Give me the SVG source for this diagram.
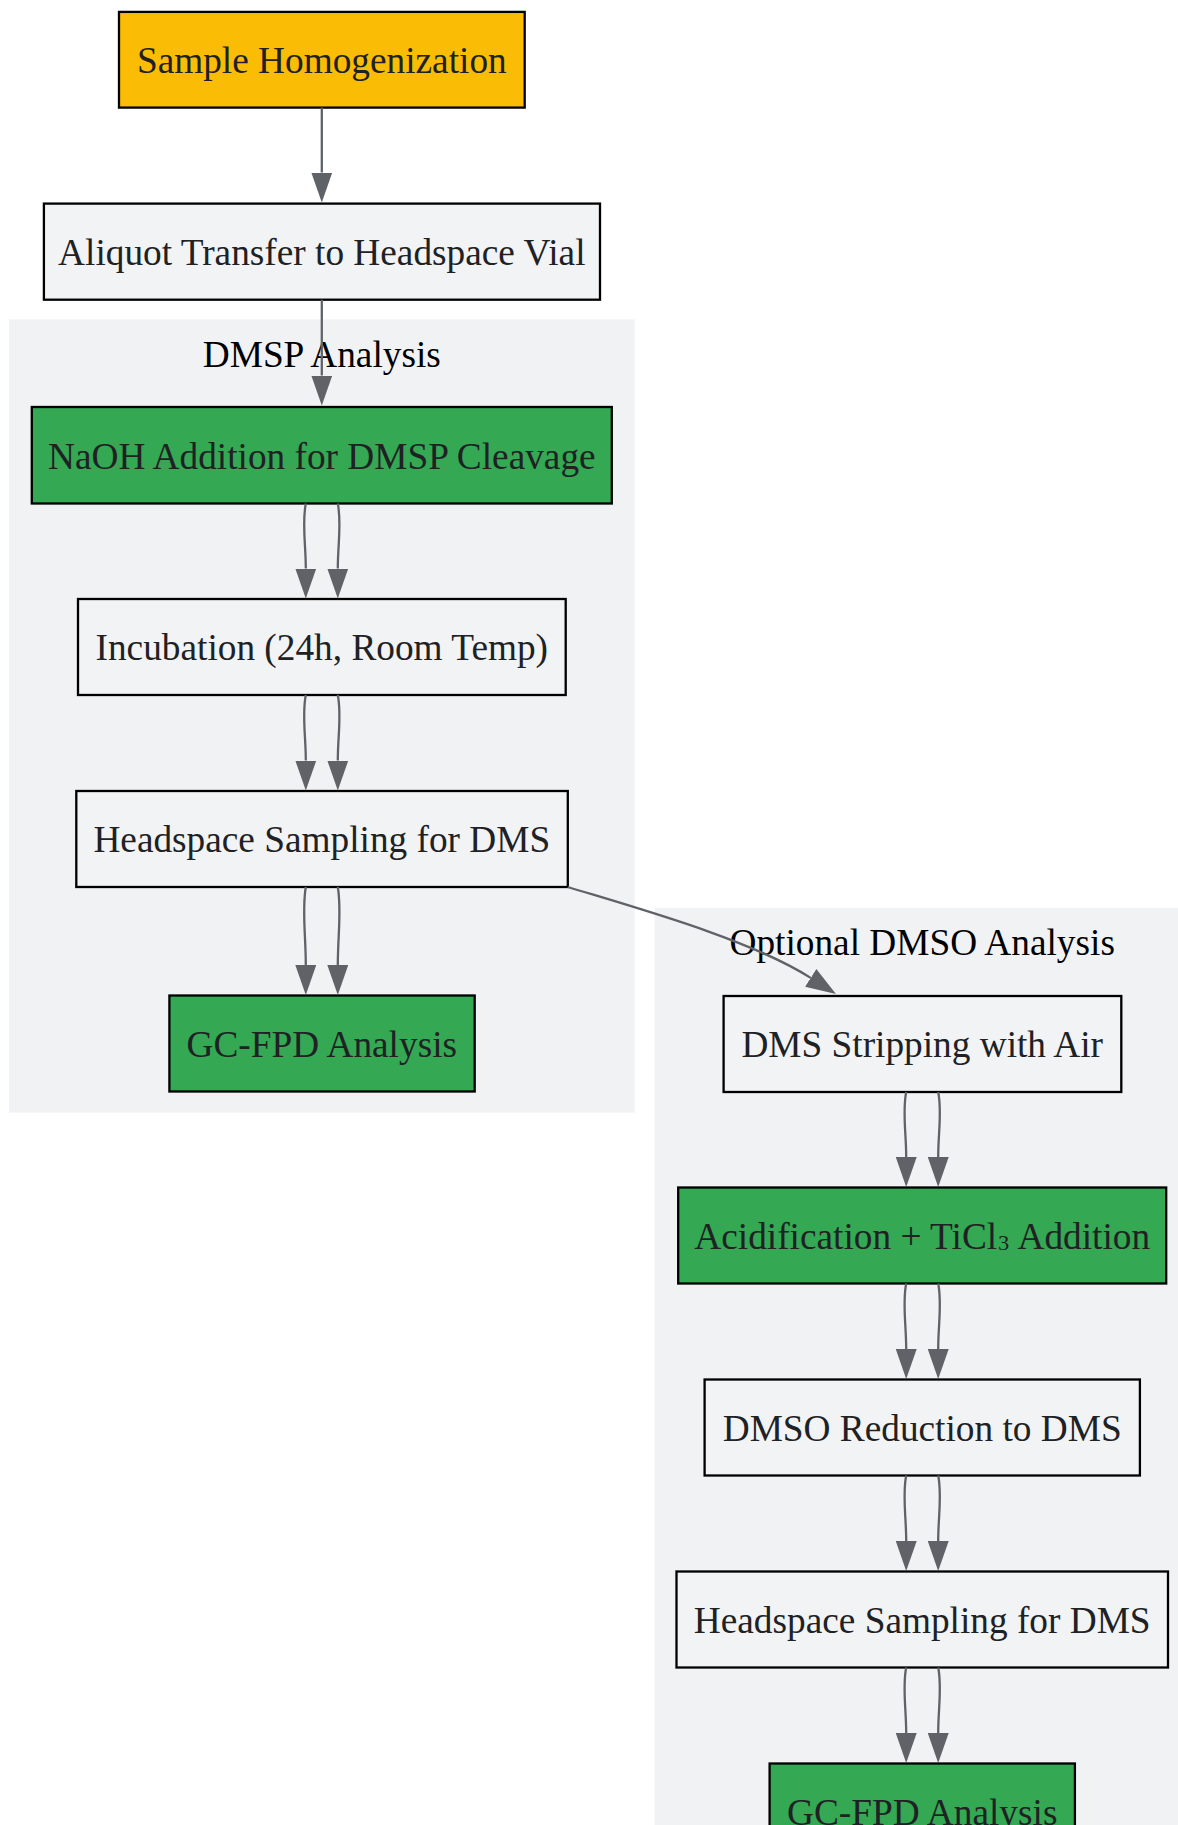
<svg xmlns="http://www.w3.org/2000/svg" width="1178" height="1825" viewBox="0 0 1178 1825">
<defs>
<marker id="arrow" markerUnits="userSpaceOnUse" markerWidth="30" markerHeight="21" viewBox="0 0 30 21" refX="0" refY="10.5" orient="auto">
<path d="M0 0 L30 10.5 L0 21 z" fill="#5F6368"/>
</marker>
</defs>
<style>
.node rect{stroke:#000;stroke-width:2.3}
.plain rect{fill:#F1F3F4}
.green rect{fill:#34A853}
.yellow rect{fill:#FBBC05}
.node text{font-family:"Liberation Serif","Times New Roman",serif;font-size:37.3px;fill:#202124;text-anchor:middle}
.cluster rect{fill:#F1F2F4;stroke:none}
.cluster text{font-family:"Liberation Serif","Times New Roman",serif;font-size:37.3px;fill:#000;text-anchor:middle}
.edges path{fill:none;stroke:#5F6368;stroke-width:2.3;marker-end:url(#arrow)}
</style>
<rect width="1178" height="1825" fill="#fff"/>
<g id="cluster-dmsp" class="cluster">
<rect x="9" y="319.5" width="625.5" height="793"/>
<text x="321.8" y="367">DMSP Analysis</text>
</g>
<g id="cluster-dmso" class="cluster">
<rect x="654.6" y="908" width="535" height="1000"/>
<text x="922.2" y="955">Optional DMSO Analysis</text>
</g>
<g id="n-sample" class="node yellow">
<rect x="119" y="11.9" width="405.7" height="95.7"/>
<text x="321.8" y="73">Sample Homogenization</text>
</g>
<g id="n-aliquot" class="node plain">
<rect x="43.9" y="203.6" width="556.1" height="96.1"/>
<text x="321.8" y="265">Aliquot Transfer to Headspace Vial</text>
</g>
<g id="n-naoh" class="node green">
<rect x="31.8" y="407" width="580" height="96.5"/>
<text x="321.8" y="468.5">NaOH Addition for DMSP Cleavage</text>
</g>
<g id="n-incubation" class="node plain">
<rect x="78" y="599" width="487.7" height="96"/>
<text x="321.8" y="660.2">Incubation (24h, Room Temp)</text>
</g>
<g id="n-headspace1" class="node plain">
<rect x="76.3" y="791" width="491.5" height="96"/>
<text x="321.8" y="852.2">Headspace Sampling for DMS</text>
</g>
<g id="n-gcfpd1" class="node green">
<rect x="169.4" y="995.5" width="305.3" height="96"/>
<text x="321.8" y="1056.7">GC-FPD Analysis</text>
</g>
<g id="n-stripping" class="node plain">
<rect x="723.6" y="996" width="397.7" height="96"/>
<text x="922.2" y="1057.2">DMS Stripping with Air</text>
</g>
<g id="n-acid" class="node green">
<rect x="678.2" y="1187.5" width="488" height="96"/>
<text x="922.2" y="1248.7">Acidification + TiCl<tspan dy="-6">₃</tspan><tspan dy="6"> Addition</tspan></text>
</g>
<g id="n-reduction" class="node plain">
<rect x="704.6" y="1379.5" width="435.3" height="96"/>
<text x="922.2" y="1440.7">DMSO Reduction to DMS</text>
</g>
<g id="n-headspace2" class="node plain">
<rect x="676.5" y="1571.5" width="491.5" height="96"/>
<text x="922.2" y="1632.7">Headspace Sampling for DMS</text>
</g>
<g id="n-gcfpd2" class="node green">
<rect x="769.6" y="1763.5" width="305.3" height="96"/>
<text x="922.2" y="1824.7">GC-FPD Analysis</text>
</g>
<g id="edges" class="edges">
<path d="M321.8 107.6 L321.8 172.5"/>
<path d="M321.8 299.7 L321.8 375.5"/>
<path d="M305.8 503.5 C301.8 523.5 305.8 543.5 305.8 568.5"/>
<path d="M337.8 503.5 C341.8 523.5 337.8 543.5 337.8 568.5"/>
<path d="M305.8 695 C301.8 715 305.8 735 305.8 760.5"/>
<path d="M337.8 695 C341.8 715 337.8 735 337.8 760.5"/>
<path d="M305.8 887 C301.8 910 305.8 935 305.8 965"/>
<path d="M337.8 887 C341.8 910 337.8 935 337.8 965"/>
<path d="M567.8 887 C640 909 750.7 939.7 810.7 977.9"/>
<path d="M906.2 1092 C902.2 1112 906.2 1132 906.2 1157"/>
<path d="M938.2 1092 C942.2 1112 938.2 1132 938.2 1157"/>
<path d="M906.2 1283.5 C902.2 1303 906.2 1324 906.2 1349"/>
<path d="M938.2 1283.5 C942.2 1303 938.2 1324 938.2 1349"/>
<path d="M906.2 1475.5 C902.2 1495 906.2 1516 906.2 1541"/>
<path d="M938.2 1475.5 C942.2 1495 938.2 1516 938.2 1541"/>
<path d="M906.2 1667.5 C902.2 1687 906.2 1708 906.2 1733"/>
<path d="M938.2 1667.5 C942.2 1687 938.2 1708 938.2 1733"/>
</g>
</svg>
